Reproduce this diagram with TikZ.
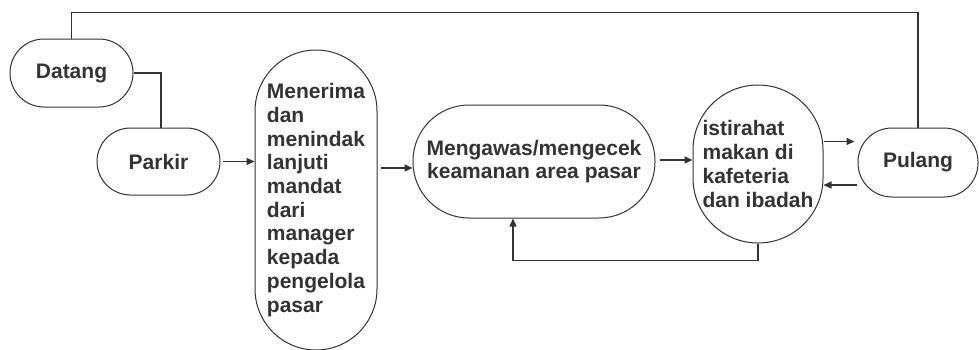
\documentclass[tikz,border=0pt]{standalone}
\usepackage{fontspec}
\setmainfont{Liberation Sans}
\usetikzlibrary{arrows.meta,calc}
\definecolor{ink}{HTML}{333333}
\begin{document}
\begin{tikzpicture}[x=1pt,y=-1pt,
  box/.style={draw=ink, line width=1pt, inner sep=0pt, text=ink,
    font=\bfseries\fontsize{21pt}{23.7pt}\selectfont},
  conn/.style={draw=ink, line width=1.2pt},
  arr/.style={conn, -{Triangle[length=8pt,width=7pt]}}]
\useasboundingbox (0,0) rectangle (979,349);

\node[box, align=center, minimum width=123pt, minimum height=68pt, rounded corners=34pt] (datang) at (71.5,73) {Datang};
\node[box, align=center, minimum width=123pt, minimum height=67pt, rounded corners=33.5pt] (parkir) at (158.5,161.5) {Parkir};
\node[box, align=left, minimum width=122pt, minimum height=300pt, rounded corners=61pt] (menerima) at (316,200)
  {Menerima\\dan\\menindak\\lanjuti\\mandat\\dari\\manager\\kepada\\pengelola\\pasar};
\node[box, align=center, minimum width=242pt, minimum height=113pt, rounded corners=56pt] (mengawas) at (534,161.5)
  {Mengawas/mengecek\\keamanan area pasar};
\node[box, align=left, minimum width=130pt, minimum height=158pt, rounded corners=65pt] (istirahat) at (758,164)
  {istirahat\\makan di\\kafeteria\\dan ibadah};
\node[box, align=center, minimum width=120pt, minimum height=69pt, rounded corners=34pt] (pulang) at (918,162.5) {Pulang};

% connectors
\draw[conn] (datang.east) -| ($(parkir.north)+(2.5,0)$);
\draw[arr, shorten <=2pt] (parkir.east) -- (parkir.east -| menerima.west);
\draw[arr, shorten <=3pt] ($(menerima.east |- mengawas.west)+(0,6.5)$) -- ($(mengawas.west)+(0,6.5)$);
\draw[arr, shorten <=4pt] ($(mengawas.east)+(0,-1.5)$) -- ($(mengawas.east -| istirahat.west)+(0,-1.5)$);
\draw[arr, shorten >=3pt] ($(istirahat.east |- pulang.west)+(0,-21)$) -- ($(pulang.west)+(0,-21)$);
\draw[arr, shorten <=1pt] ($(pulang.west)+(0,22.5)$) -- ($(istirahat.east |- pulang.west)+(0,22.5)$);
\draw[arr] (istirahat.south) |- ($(mengawas.south)+(-21,42)$) -- ($(mengawas.south)+(-21,0)$);
\draw[conn] (datang.north) -- ++(0,-26) -| (pulang.north);
\end{tikzpicture}
\end{document}
